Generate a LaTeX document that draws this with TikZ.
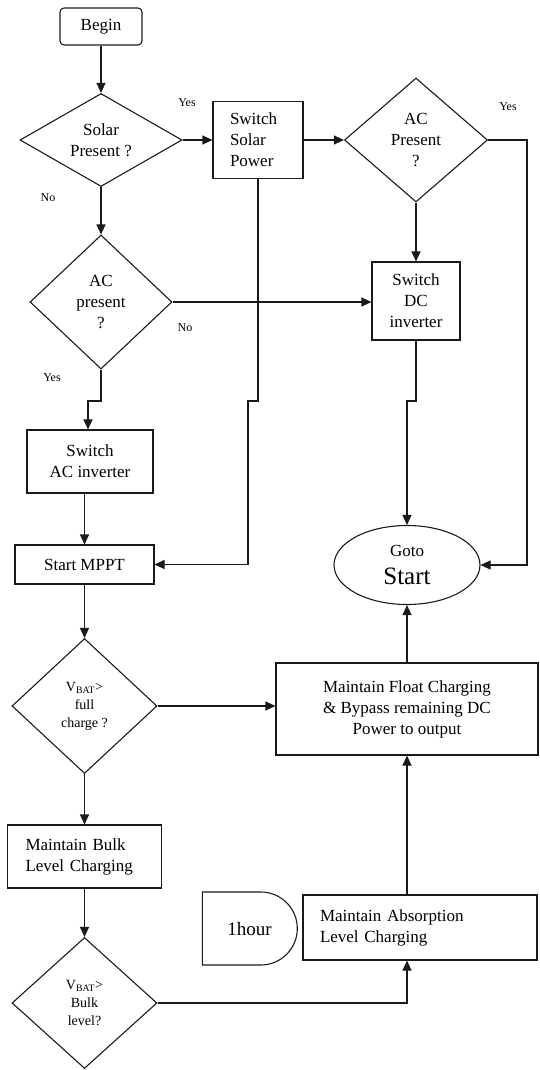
\documentclass[tikz,border=0pt]{standalone}
\usepackage{fontspec}
\setmainfont{Liberation Serif}
\usepackage{tikz}
\usetikzlibrary{arrows.meta,positioning,shapes.geometric,shapes.misc}
\definecolor{cTraco}{HTML}{1A1A1A}

\begin{document}
\begin{tikzpicture}[
  x=1pt,y=-1pt,font=\fontsize{17}{21}\selectfont,
  box/.style={draw=cTraco,line width=1.1pt,inner sep=0pt,align=center},
  dec/.style={draw=cTraco,diamond,line width=1.1pt,inner sep=0pt,align=center},
  ar/.style={-{Triangle[length=10pt,width=9pt]},draw=cTraco,line width=1.1pt},
  lbl/.style={font=\fontsize{12}{14}\selectfont},
  vtxt/.style={font=\fontsize{14}{18}\selectfont}
]
\useasboundingbox (0,0) rectangle (540,1070);

% ---- coluna esquerda
\node[box,rounded corners=4pt,minimum width=82pt,minimum height=37pt] (begin) at (101,26.5) {Begin};
\node[dec,aspect=1.74,minimum width=162pt,minimum height=93pt] (solar) at (101,140) {Solar\\Present ?};
\node[dec,aspect=1.06,minimum width=142pt,minimum height=134pt] (acp) at (101,302) {AC\\present\\?};
\node[box,minimum width=126pt,minimum height=63pt] (swac) at (90,461.5) {Switch\\AC inverter};
\node[box,minimum width=139pt,minimum height=39pt] (mppt) at (84.5,564.5) {Start MPPT};
\node[dec,vtxt,aspect=1.07,minimum width=145pt,minimum height=135pt] (vfull) at (84.5,706) {V\textsubscript{BAT}>\\full\\charge ?};
\node[box,minimum width=154pt,minimum height=63pt,text width=118pt,align=left] (bulk) at (84.5,856.5) {Maintain Bulk\\Level Charging};
\node[dec,vtxt,aspect=1.1,minimum width=145pt,minimum height=131pt] (vbulk) at (84.5,1003) {V\textsubscript{BAT}>\\Bulk\\level?};

% ---- coluna do meio e direita
\node[box,minimum width=90pt,minimum height=77pt,text width=56pt,align=left] (swsol) at (258,140) {Switch\\Solar\\Power};
\node[dec,aspect=1.15,minimum width=143pt,minimum height=124pt] (acpres) at (416,140) {AC\\Present\\?};
\node[box,minimum width=88pt,minimum height=78pt] (swdc) at (416,301) {Switch\\DC\\inverter};
\node[ellipse,draw=cTraco,line width=1.1pt,inner sep=0pt,minimum width=146pt,minimum height=79pt,align=center] (goto) at (407,565) {Goto\\[7pt]{\fontsize{25}{25}\selectfont Start}};
\node[box,minimum width=262pt,minimum height=92pt] (flt) at (407,709) {Maintain Float Charging\\\& Bypass remaining DC\\Power to output};
\node[box,minimum width=234pt,minimum height=65pt,text width=200pt,align=left] (abs) at (420,927.5) {Maintain Absorption\\Level Charging};
\node[draw=cTraco,line width=1.1pt,rounded rectangle,rounded rectangle west arc=none,
      minimum width=95pt,minimum height=73pt,inner sep=0pt,font=\fontsize{19}{21}\selectfont] (hr) at (249.5,928.5) {1hour};

% ---- rotulos
\node[lbl] (ySolar) at (187,103) {Yes};
\node[lbl] (nSolar) at (48,198) {No};
\node[lbl] (yACpres) at (508,107) {Yes};
\node[lbl] (nACp) at (185,328) {No};
\node[lbl] (yACp) at (52,378) {Yes};

% ---- quebras
\coordinate (qA) at (88,401);
\coordinate (qB) at (248,401);
\coordinate (qC) at (407,401);
\coordinate (qD) at (527,401);

% ---- setas
\draw[ar] (begin) -- (solar);
\draw[ar] (solar) -- (acp);
\draw[ar] (solar.east) -- (swsol.west);
\draw[ar] (swsol.east) -- (acpres.west);
\draw[ar] (acpres) -- (swdc);
\draw[ar] (acp.east) -- (acp.east -| swdc.west);
\draw[ar] (acpres.east) -| (qD) |- (goto.east);
\draw[ar] (acp.south) |- (qA) -- (qA |- swac.north);
\draw[ar] (swsol.south) |- (qB) |- (mppt.east);
\draw[ar] (swdc.south) |- (qC) -- (goto.north);
\draw[ar] (mppt.north |- swac.south) -- (mppt.north);
\draw[ar] (mppt) -- (vfull);
\draw[ar] (vfull.east) -- (vfull.east -| flt.west);
\draw[ar] (flt.north) -- (goto.south);
\draw[ar] (vfull) -- (bulk);
\draw[ar] (bulk) -- (vbulk);
\draw[ar] (vbulk.east) -| (abs.south -| flt.south);
\draw[ar] (abs.north -| flt.south) -- (flt.south);
\end{tikzpicture}
\end{document}
